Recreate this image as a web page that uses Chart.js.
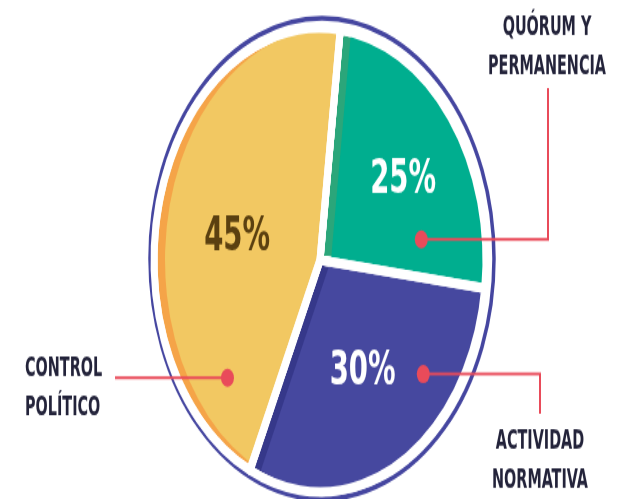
<!DOCTYPE html>
<html>
<head>
<meta charset="utf-8">
<script src="https://cdn.jsdelivr.net/npm/chart.js@4/dist/chart.umd.min.js"></script>
<style>
  html, body { margin: 0; padding: 0; background: #fff; width: 625px; height: 499px; }
  #wrap { width: 625px; height: 357px; transform: scaleY(1.3978); transform-origin: 0 0; }
</style>
</head>
<body>
<div id="wrap"><canvas id="pie" width="625" height="357"></canvas></div>
<script>
// data
var categories = ['QUÓRUM Y PERMANENCIA', 'ACTIVIDAD NORMATIVA', 'CONTROL POLÍTICO'];
var shares = [25, 30, 45];
var labelLines = [['QUÓRUM Y', 'PERMANENCIA'], ['ACTIVIDAD', 'NORMATIVA'], ['CONTROL', 'POLÍTICO']];

var lightColors = ['#00AE8F', '#46489F', '#F2C862'];
var darkColors = ['#2BA67A', '#36388A', '#F5A448'];
var pctColors = ['#ffffff', '#ffffff', '#5B4010'];
var FONT = "'Liberation Sans Narrow', 'DejaVu Sans Condensed', 'Noto Sans', sans-serif";

// callout layout (canvas px, before the vertical stretch)
var callouts = [
    { pctT: 0.54, pctR: 0.62, dotT: 0.83, dotR: 0.63, turnX: 548, endY: 63, textX: 547, textY: [20, 48], align: 'center' },
    { pctT: 0.51, pctR: 0.56, dotT: 0.29, dotR: 0.81, turnX: 540, endY: 296, textX: 540, textY: [316, 344], align: 'center' },
    { pctT: 0.47, pctR: 0.52, dotT: 0.14, dotR: 0.77, turnX: 115, endY: null, textX: 25, textY: [264, 292], align: 'left' }
];

function wedge(ctx, x, y, r, a0, a1) {
    ctx.beginPath();
    ctx.moveTo(x, y);
    ctx.arc(x, y, r, a0, a1);
    ctx.closePath();
}

// text squeezed horizontally to get the narrow poster look
function squeezedText(ctx, text, x, y, align, sx) {
    ctx.save();
    ctx.translate(x, y);
    ctx.scale(sx, 1);
    ctx.textAlign = align;
    ctx.textBaseline = 'middle';
    ctx.fillText(text, 0, 0);
    ctx.restore();
}

var decor = {
    id: 'decor',
    afterDatasetsDraw: function(chart) {
        var ctx = chart.ctx;
        var arcs = chart.getDatasetMeta(0).data;
        var cx = arcs[0].x, cy = arcs[0].y, R = arcs[0].outerRadius;

        // outer ring
        ctx.save();
        ctx.beginPath();
        ctx.arc(cx + 2, cy - 1, R + 6, 0, Math.PI * 2);
        ctx.lineWidth = 3.5;
        ctx.strokeStyle = '#4546A0';
        ctx.stroke();
        ctx.restore();

        // lighter face shifted right, leaving a darker edge on the left
        arcs.forEach(function(el, i) {
            ctx.save();
            wedge(ctx, el.x, el.y, el.outerRadius, el.startAngle, el.endAngle);
            ctx.clip();
            wedge(ctx, el.x + 11, el.y, el.outerRadius, el.startAngle, el.endAngle);
            ctx.fillStyle = lightColors[i];
            ctx.fill();
            ctx.restore();
        });
        arcs.forEach(function(el) {
            ctx.save();
            wedge(ctx, el.x, el.y, el.outerRadius, el.startAngle, el.endAngle);
            ctx.lineWidth = 7;
            ctx.lineJoin = 'round';
            ctx.strokeStyle = '#ffffff';
            ctx.stroke();
            ctx.restore();
        });

        var r = R - 3.5;
        arcs.forEach(function(el, i) {
            var c = callouts[i];
            var span = el.endAngle - el.startAngle;

            // percentage
            var am = el.startAngle + span * c.pctT;
            ctx.save();
            ctx.font = 'bold 34px ' + FONT;
            ctx.fillStyle = pctColors[i];
            squeezedText(ctx, shares[i] + '%', el.x + Math.cos(am) * r * c.pctR, el.y + Math.sin(am) * r * c.pctR, 'center', 0.9);
            ctx.restore();

            // connector + dot
            var ad = el.startAngle + span * c.dotT;
            var dx = el.x + Math.cos(ad) * r * c.dotR;
            var dy = el.y + Math.sin(ad) * r * c.dotR;
            ctx.save();
            ctx.strokeStyle = '#E94B5A';
            ctx.lineWidth = 2;
            ctx.beginPath();
            ctx.moveTo(dx, dy);
            ctx.lineTo(c.turnX, dy);
            if (c.endY !== null) ctx.lineTo(c.turnX, c.endY);
            ctx.stroke();
            ctx.beginPath();
            ctx.arc(dx, dy, 6.5, 0, Math.PI * 2);
            ctx.fillStyle = '#E94B5A';
            ctx.fill();
            ctx.restore();

            // category text
            ctx.save();
            ctx.font = 'bold 20px ' + FONT;
            ctx.fillStyle = '#23233A';
            labelLines[i].forEach(function(t, k) {
                squeezedText(ctx, t, c.textX, c.textY[k], c.align, 0.8);
            });
            ctx.restore();
        });
    }
};

var pie = document.getElementById('pie');
var myChart = new Chart(pie, {
    type: 'pie',
    data: {
        labels: categories,
        datasets: [{
            data: shares,
            backgroundColor: darkColors,
            borderColor: '#ffffff',
            borderWidth: 7
        }]
    },
    options: {
        responsive: false,
        animation: false,
        rotation: 7,
        radius: 166,
        layout: { padding: { left: 15, top: 15, right: 0, bottom: 0 } },
        plugins: {
            legend: { display: false },
            tooltip: { enabled: false }
        }
    },
    plugins: [decor]
});
</script>
</body>
</html>
